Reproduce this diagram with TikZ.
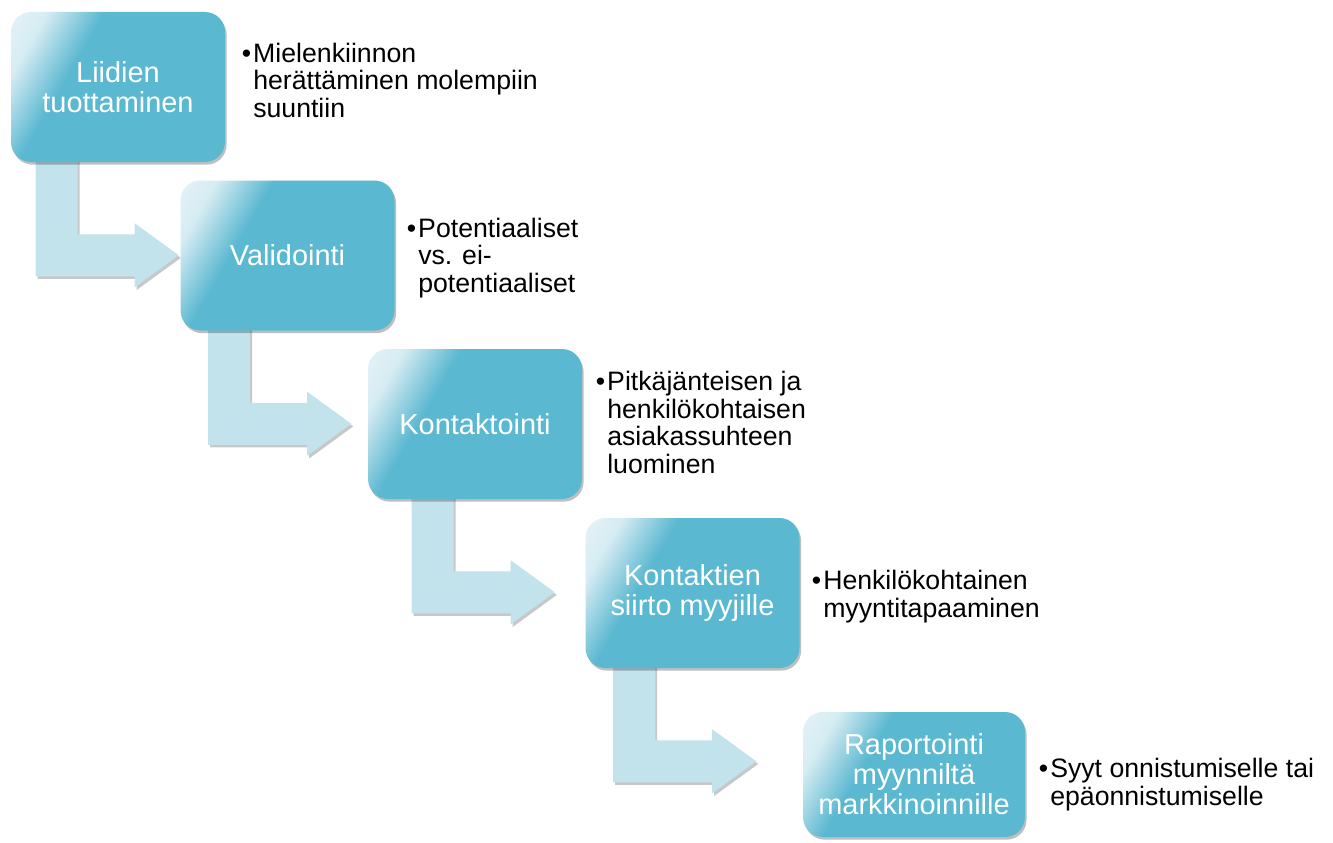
\documentclass[tikz,border=0pt]{standalone}
\usepackage{fontspec}
\setmainfont{Liberation Sans}
\usetikzlibrary{calc,shadows,positioning}

\definecolor{boxmain}{RGB}{91,184,209}
\definecolor{boxlight}{RGB}{214,236,243}
\definecolor{arrowfill}{RGB}{195,227,236}

\pgfdeclarehorizontalshading{boxgloss}{100bp}{color(0bp)=(white); color(24bp)=(boxlight); color(37bp)=(boxmain); color(100bp)=(boxmain)}

\pgfdeclarelayer{paper}
\pgfdeclarelayer{bg}
\pgfsetlayers{paper,bg,main}

\tikzset{pics/bentarrow/.style={code={
    \fill[flow] (0,0) -- (42,0) -- (42,75) -- (99,75) -- (99,64) -- (143,96)
      -- (99,128) -- (99,117) -- (0,117) -- cycle;
}}}

\begin{document}
\begin{tikzpicture}[x=0.75pt,y=-0.75pt,
    stage/.style={rectangle, rounded corners=15pt, minimum width=160.5pt, minimum height=112.5pt,
        shading=boxgloss, shading angle=-30, text=white, align=center, inner sep=2pt,
        font=\fontsize{21.7}{22.6}\selectfont,
        drop shadow={shadow xshift=1.2pt, shadow yshift=-2pt, opacity=0.25, fill=black}},
    note/.style={anchor=base west, align=left, inner sep=0pt, text=black,
        font=\fontsize{20}{20.6}\selectfont},
    flow/.style={fill=arrowfill, drop shadow={shadow xshift=1.5pt, shadow yshift=-2pt, opacity=0.3, fill=black!70}}
    ]
    \begin{pgfonlayer}{paper}
    \fill[white] (0,0) rectangle (1333,842);
    \end{pgfonlayer}
    \path[use as bounding box, clip] (0,0) rectangle (1333,842);

    % the five steps
    \foreach \n/\cx/\cy/\wdt/\hgt/\txt in {
        1/118/87/160.5/112.5/{Liidien\\tuottaminen},
        2/287.5/255.5/160.5/112.5/{Validointi},
        3/475/424/160.5/112.5/{Kontaktointi},
        4/692.5/593/160.5/112.5/{Kontaktien\\siirto myyjille},
        5/914/774.5/166.5/93.75/{Raportointi\\myynniltä\\markkinoinnille}} {
        \node[stage, minimum width=\wdt pt, minimum height=\hgt pt] (s\n) at (\cx,\cy) {\txt};
    }

    % bent arrows, behind the steps
    \begin{pgfonlayer}{bg}
    \foreach \n/\dx in {1/25, 2/28, 3/44, 4/28} {
        \pic at ($(s\n.south west)+(\dx,-3)$) {bentarrow};
    }
    \end{pgfonlayer}

    % bullet texts (placed by their last line)
    \foreach \x/\y/\txt[count=\i] in {
        253/117/{\llap{\textbullet\hspace{1.5pt}}Mielenkiinnon\\herättäminen molempiin\\suuntiin},
        418/292/{\llap{\textbullet\hspace{1.5pt}}Potentiaaliset\\vs. ei-\\potentiaaliset},
        607/473/{\llap{\textbullet\hspace{1.5pt}}Pitkäjänteisen ja\\henkilökohtaisen\\asiakassuhteen\\luominen},
        823/617/{\llap{\textbullet\hspace{1.5pt}}Henkilökohtainen\\myyntitapaaminen},
        1050/805/{\llap{\textbullet\hspace{1.5pt}}Syyt onnistumiselle tai\\epäonnistumiselle}} {
        \node[note] (t\i) at (\x,\y) {\txt};
    }
\end{tikzpicture}
\end{document}
